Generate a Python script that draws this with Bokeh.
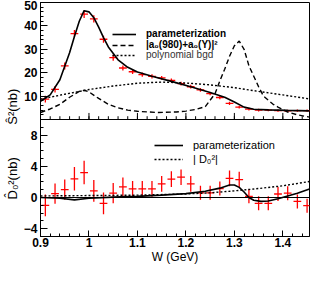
from bokeh.plotting import figure
from bokeh.models import (Legend, LegendItem, Span, FixedTicker, Range1d, Title)
from bokeh.embed import file_html
from bokeh.resources import INLINE

# ---------------- data ----------------
w_pts = [0.91, 0.93, 0.95, 0.97, 0.99, 1.01, 1.03, 1.05, 1.07, 1.09, 1.11, 1.13, 1.15, 1.17,
         1.19, 1.21, 1.23, 1.25, 1.27, 1.29, 1.31, 1.33, 1.35, 1.37, 1.39, 1.41, 1.43, 1.45]
s2_vals = [8.7, 12.9, 22.9, 36.7, 45.0, 43.0, 34.3, 26.4, 22.0, 20.4, 19.2, 18.4, 17.8, 16.7,
           15.3, 14.0, 12.7, 11.1, 9.4, 6.9, 5.3, 4.4, 4.0, 4.0, 3.8, 3.7, 3.8, 3.8]
s2_errs = [1.4, 1.4, 1.5, 1.6, 1.6, 1.6, 1.5, 1.3, 1.1, 1.0, 0.9, 0.9, 0.8, 0.8,
           0.8, 0.8, 0.8, 0.7, 0.7, 0.7, 0.6, 0.6, 0.6, 0.5, 0.5, 0.5, 0.5, 0.5]
d2_vals = [-1.0, 0.5, 1.0, 2.4, 3.2, 0.85, -0.75, 0.55, 1.35, 1.1, 1.1, 1.1, 1.75, 2.35,
           2.6, 1.75, 0.6, 0.6, 1.15, 2.45, 2.3, 0.15, -0.75, -0.75, 0.45, 0.55, -0.5, -1.05]
d2_errs = [1.4, 1.3, 1.3, 1.5, 1.5, 1.4, 1.4, 1.3, 1.2, 1.0, 1.0, 1.0, 1.0, 1.0,
           1.0, 1.0, 0.9, 0.9, 0.9, 1.0, 1.0, 0.9, 0.9, 0.9, 0.9, 0.9, 0.9, 0.9]
bin_half = 0.008

# fit curves
fit_w = [0.90, 0.92, 0.94, 0.96, 0.97, 0.98, 0.99, 1.00, 1.01, 1.02, 1.03, 1.04, 1.06, 1.08,
         1.10, 1.13, 1.17, 1.21, 1.25, 1.28, 1.30, 1.32, 1.34, 1.37, 1.41, 1.455]
fit_s2 = [7.8, 10.5, 17.0, 28.5, 35.5, 42.0, 46.5, 46.0, 43.5, 39.5, 35.0, 31.0, 25.5, 22.3,
          20.3, 18.5, 16.3, 14.0, 11.5, 9.5, 7.5, 5.3, 4.4, 4.1, 3.9, 3.7]
amp_w = [0.90, 0.92, 0.94, 0.96, 0.98, 0.99, 1.00, 1.02, 1.04, 1.06, 1.08, 1.10, 1.14, 1.18,
         1.20, 1.22, 1.24, 1.26, 1.27, 1.28, 1.29, 1.30, 1.31, 1.32, 1.33, 1.34, 1.35, 1.36,
         1.38, 1.39, 1.41, 1.43, 1.455]
amp_s2 = [3.0, 4.5, 6.5, 9.5, 12.0, 12.5, 11.8, 9.0, 6.5, 5.0, 4.0, 3.5, 3.0, 3.2,
          3.6, 4.3, 5.5, 11.0, 16.5, 21.5, 27.0, 31.5, 33.5, 30.0, 23.0, 18.5, 14.0, 10.0,
          6.5, 5.3, 3.2, 2.0, 1.0]
bgd_w = [0.90, 0.95, 1.00, 1.05, 1.10, 1.15, 1.20, 1.25, 1.30, 1.35, 1.40, 1.455]
bgd_s2 = [8.7, 10.8, 12.8, 14.3, 15.5, 16.0, 15.6, 14.8, 13.6, 12.0, 10.5, 8.8]

fitd_w = [0.90, 0.94, 0.97, 1.00, 1.05, 1.10, 1.15, 1.20, 1.24, 1.27, 1.29, 1.30, 1.31, 1.32,
          1.33, 1.34, 1.355, 1.37, 1.39, 1.41, 1.43, 1.455]
fitd_d2 = [0.0, -0.1, -0.3, -0.1, 0.05, 0.15, 0.3, 0.5, 0.8, 1.2, 1.6, 1.6, 1.3, 0.7,
           0.0, -0.35, -0.5, -0.45, -0.15, 0.2, 0.55, 1.1]
absd_w = [0.90, 1.00, 1.10, 1.20, 1.25, 1.30, 1.35, 1.40, 1.455]
absd_d2 = [0.2, 0.25, 0.3, 0.45, 0.6, 0.85, 1.15, 1.5, 2.05]

x_major = [0.9, 1.0, 1.1, 1.2, 1.3, 1.4]
x_labels = {0.9: "0.9", 1.0: "1", 1.1: "1.1", 1.2: "1.2", 1.3: "1.3", 1.4: "1.4"}
x_minor = [round(0.9 + 0.02 * i, 2) for i in range(28)]
s2_major = [10, 20, 30, 40, 50]
s2_minor = list(range(2, 51, 2))
d2_major = [-4, 0, 4, 8]
d2_minor = list(range(-5, 11))

FONT = "Liberation Sans"

# ---------------- one frame, two stacked panels ----------------
D_LO, D_HI = -5, 10
S_LO, S_HI = 0, 50
y_main = Range1d(D_LO, D_HI + (D_HI - D_LO))
y_s2 = Range1d(S_LO - (S_HI - S_LO), S_HI)


def s2_to_main(v):
    return round(y_main.start + (v - y_s2.start) * (y_main.end - y_main.start)
                 / (y_s2.end - y_s2.start), 4)


p = figure(width=311, height=266, x_range=Range1d(0.9, 1.455), y_range=y_main,
           extra_y_ranges={"s2": y_s2}, output_backend="svg", toolbar_location=None,
           min_border_left=40, min_border_right=2, min_border_top=2, min_border_bottom=20)
p.title.visible = False
p.grid.visible = False
p.outline_line_color = "black"
p.outline_line_width = 1

for ax in list(p.xaxis) + list(p.yaxis):
    ax.axis_line_color = "black"
    ax.major_tick_line_color = "black"
    ax.minor_tick_line_color = "black"
    ax.major_tick_out = 0
    ax.minor_tick_out = 0
    ax.major_label_text_font = FONT
    ax.major_label_text_font_style = "bold"
    ax.major_label_text_font_size = "12px"
    ax.major_label_text_color = "black"
    ax.axis_label_text_font = FONT
    ax.axis_label_text_font_style = "normal"
    ax.axis_label_text_font_size = "12px"
    ax.axis_label_text_color = "black"

p.xaxis.ticker = FixedTicker(ticks=x_major, minor_ticks=x_minor)
p.xaxis.major_label_overrides = x_labels
p.xaxis.major_tick_in = 6
p.xaxis.minor_tick_in = 3
p.xaxis.major_label_standoff = 1
p.xaxis.axis_label = "W (GeV)"
p.xaxis.axis_label_standoff = 0

up_ticks = [int(s2_to_main(v)) for v in s2_major]
up_minor = [s2_to_main(v) for v in s2_minor]
p.yaxis.ticker = FixedTicker(ticks=d2_major + up_ticks, minor_ticks=d2_minor + up_minor)
p.yaxis.major_label_overrides = {t: str(v) for t, v in zip(up_ticks, s2_major)}
p.yaxis.major_tick_in = 7
p.yaxis.minor_tick_in = 3
p.yaxis.major_label_standoff = 3

# panel separator (top of the lower panel) and zero line
p.add_layout(Span(location=D_HI, dimension="width", line_color="black", line_width=1))
p.add_layout(Span(location=0, dimension="width", line_color="black", line_width=1))

# x ticks on the upper panel's bottom edge, pointing up
p.segment(x0=x_minor, y0=[S_LO] * len(x_minor), x1=x_minor, y1=[S_LO + 1.4] * len(x_minor),
          line_color="black", line_width=1, y_range_name="s2")
p.segment(x0=x_major, y0=[S_LO] * len(x_major), x1=x_major, y1=[S_LO + 2.8] * len(x_major),
          line_color="black", line_width=1, y_range_name="s2")


def crosses(xs, ys, es, rng):
    p.segment(x0=[x - bin_half for x in xs], y0=ys, x1=[x + bin_half for x in xs], y1=ys,
              line_color="red", line_width=1.3, y_range_name=rng)
    p.segment(x0=xs, y0=[y - e for y, e in zip(ys, es)], x1=xs,
              y1=[y + e for y, e in zip(ys, es)],
              line_color="red", line_width=1.3, y_range_name=rng)


crosses(w_pts, s2_vals, s2_errs, "s2")
r_fit = p.line(fit_w, fit_s2, line_color="black", line_width=1.6, y_range_name="s2")
r_amp = p.line(amp_w, amp_s2, line_color="black", line_width=1.4, line_dash="5 3",
               y_range_name="s2")
r_bgd = p.line(bgd_w, bgd_s2, line_color="black", line_width=1.4, line_dash="2 2",
               y_range_name="s2")

crosses(w_pts, d2_vals, d2_errs, "default")
r_fitd = p.line(fitd_w, fitd_d2, line_color="black", line_width=1.6)
r_absd = p.line(absd_w, absd_d2, line_color="black", line_width=1.4, line_dash="2 2")


def make_legend(items, loc, gw, gh, style, size, color="black"):
    return Legend(items=items, location=loc, orientation="vertical",
                  glyph_width=gw, glyph_height=gh, label_height=gh, label_standoff=10,
                  spacing=0, padding=0, margin=0, border_line_color=None,
                  background_fill_alpha=0, label_text_font=FONT,
                  label_text_font_style=style, label_text_font_size=size,
                  label_text_color=color)


p.add_layout(make_legend([LegendItem(label="parameterization", renderers=[r_fit]),
                          LegendItem(label="|a₀(980)+a₀(Y)|²", renderers=[r_amp])],
                         (72, 186), 24, 10, "bold", "10px"))
p.add_layout(make_legend([LegendItem(label="polynomial bgd", renderers=[r_bgd])],
                         (72, 176), 24, 10, "normal", "10px", "#333333"))
p.add_layout(make_legend([LegendItem(label="parameterization", renderers=[r_fitd]),
                          LegendItem(label="| D₀²|", renderers=[r_absd])],
                         (114, 70), 29, 14, "normal", "11px"))

# panel titles on the left side (lower title first, reading bottom to top)
side_title = Title(text="D̂₀²(nb)\u2003\u2003\u2002Ŝ²(nb)", align="left", offset=37,
                   standoff=2, text_font=FONT, text_font_size="13px",
                   text_font_style="normal", text_color="black")
p.add_layout(side_title, "left")

open("out.html", "w").write(file_html(p, INLINE))
